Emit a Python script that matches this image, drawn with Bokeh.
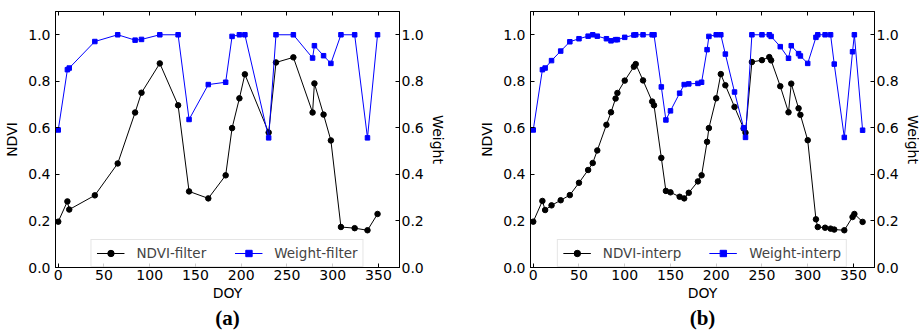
from bokeh.plotting import figure
from bokeh.models import (Range1d, LinearAxis, FixedTicker, PrintfTickFormatter,
                          Legend, LegendItem, Title)
from bokeh.layouts import row
from bokeh.embed import file_html
from bokeh.resources import INLINE

# ---- data (a) filtered ----
doy_filter = [0, 10, 12, 40, 65, 84, 91, 111, 131, 143, 164, 183, 190, 198, 204,
              230, 238, 257, 278, 280, 290, 298, 309, 324, 338, 349]
ndvi_filter = [0.197, 0.284, 0.249, 0.310, 0.447, 0.666, 0.751, 0.877, 0.697, 0.327,
               0.297, 0.396, 0.599, 0.727, 0.830, 0.580, 0.881, 0.903, 0.666, 0.791,
               0.657, 0.546, 0.174, 0.169, 0.160, 0.230]
weight_filter = [0.591, 0.850, 0.857, 0.971, 1.0, 0.977, 0.980, 1.0, 1.0, 0.636,
                 0.786, 0.796, 0.993, 1.0, 1.0, 0.557, 1.0, 1.0, 0.900, 0.953,
                 0.910, 0.877, 1.0, 1.0, 0.557, 1.0]

# ---- data (b) interpolated ----
doy_interp = [0, 10, 13, 20, 30, 40, 50, 60, 65, 70, 80, 85, 90, 92, 100, 110, 112,
              120, 130, 132, 140, 145, 150, 160, 165, 170, 180, 184, 190, 192, 200,
              205, 210, 220, 230, 232, 239, 250, 258, 260, 270, 279, 282, 290, 292,
              300, 309, 311, 319, 325, 329, 340, 349, 351, 360]
ndvi_interp = [0.197, 0.286, 0.247, 0.267, 0.289, 0.311, 0.364, 0.419, 0.449, 0.503,
               0.613, 0.667, 0.726, 0.750, 0.803, 0.863, 0.874, 0.804, 0.713, 0.697,
               0.471, 0.329, 0.323, 0.304, 0.297, 0.321, 0.370, 0.396, 0.540, 0.599,
               0.727, 0.831, 0.783, 0.690, 0.597, 0.579, 0.883, 0.891, 0.904, 0.890,
               0.779, 0.667, 0.790, 0.684, 0.656, 0.547, 0.207, 0.174, 0.171, 0.167,
               0.163, 0.160, 0.217, 0.230, 0.196]
weight_interp = [0.591, 0.850, 0.857, 0.889, 0.930, 0.970, 0.983, 0.994, 1.0, 0.994,
                 0.983, 0.974, 0.979, 0.979, 0.989, 0.999, 1.0, 1.0, 1.0, 1.0,
                 0.776, 0.634, 0.673, 0.749, 0.786, 0.789, 0.791, 0.796, 0.936, 0.993,
                 1.0, 1.0, 0.917, 0.754, 0.600, 0.559, 1.0, 1.0, 1.0, 0.993,
                 0.949, 0.899, 0.953, 0.919, 0.909, 0.877, 0.989, 1.0, 1.0, 1.0,
                 0.874, 0.559, 0.927, 1.0, 0.590]

x_ticks = [0, 50, 100, 150, 200, 250, 300, 350]
y_ticks = [0.0, 0.2, 0.4, 0.6, 0.8, 1.0]

FONT = "DejaVu Sans"


def style_axis(ax, label=None):
    ax.axis_line_color = "black"
    ax.major_tick_line_color = "black"
    ax.major_tick_in = 4
    ax.major_tick_out = 0
    ax.minor_tick_line_color = None
    ax.major_label_text_font = FONT
    ax.major_label_text_font_size = "14px"
    ax.major_label_text_color = "black"
    if label is not None:
        ax.axis_label = label
        ax.axis_label_text_font = FONT
        ax.axis_label_text_font_size = "14px"
        ax.axis_label_text_font_style = "normal"
        ax.axis_label_text_color = "black"


def make_panel(doy, ndvi, weight, lab_n, lab_w, caption, right_border):
    p = figure(frame_width=344, frame_height=256,
               min_border_left=55, min_border_right=right_border,
               min_border_top=11, min_border_bottom=66,
               x_range=Range1d(-3, 373), y_range=Range1d(0, 1.1),
               output_backend="svg", toolbar_location=None)
    p.extra_y_ranges = {"w": Range1d(0, 1.1)}
    p.grid.visible = False
    p.outline_line_color = "black"
    p.background_fill_color = "white"
    p.border_fill_color = "white"

    xa = p.xaxis[0]
    xa.ticker = FixedTicker(ticks=x_ticks)
    style_axis(xa, "DOY")
    xa.major_label_standoff = 2
    xa.axis_label_standoff = 2

    ya = p.yaxis[0]
    ya.ticker = FixedTicker(ticks=y_ticks)
    ya.formatter = PrintfTickFormatter(format="%.1f")
    style_axis(ya, "NDVI")
    ya.major_label_standoff = 5
    ya.axis_label_standoff = 5

    ra = LinearAxis(y_range_name="w", ticker=FixedTicker(ticks=y_ticks),
                    formatter=PrintfTickFormatter(format="%.1f"))
    style_axis(ra, "Weight")
    ra.major_label_standoff = 2
    ra.axis_label_standoff = 3
    p.add_layout(ra, "right")

    ta = LinearAxis(ticker=FixedTicker(ticks=x_ticks))
    style_axis(ta)
    ta.major_label_text_font_size = "0px"
    ta.major_label_text_color = None
    ta.major_label_standoff = 0
    p.add_layout(ta, "above")

    l1 = p.line(doy, ndvi, line_color="black", line_width=1)
    s1 = p.scatter(doy, ndvi, marker="circle", size=5.5, fill_color="black",
                   line_color="black")
    l2 = p.line(doy, weight, line_color="#0000ff", line_width=1, y_range_name="w")
    s2 = p.scatter(doy, weight, marker="square", size=4.5, fill_color="#0000ff",
                   line_color="#0000ff", y_range_name="w")

    leg = Legend(items=[LegendItem(label=lab_n, renderers=[l1, s1]),
                        LegendItem(label=lab_w, renderers=[l2, s2])],
                 orientation="horizontal", location="bottom_center",
                 margin=0, padding=5, spacing=28, label_standoff=12,
                 glyph_width=28, glyph_height=16, label_height=16,
                 label_text_font=FONT, label_text_font_size="13.5px",
                 border_line_color="#cccccc", border_line_width=1,
                 background_fill_color="white", background_fill_alpha=0.8)
    p.add_layout(leg, "center")

    t = Title(text=caption, align="center", text_font="Liberation Serif",
              text_font_size="21px", text_font_style="bold", text_color="black",
              standoff=0)
    p.add_layout(t, "below")
    return p


pa = make_panel(doy_filter, ndvi_filter, weight_filter, "NDVI-filter",
                "Weight-filter", "(a)", 76)
pb = make_panel(doy_interp, ndvi_interp, weight_interp, "NDVI-interp",
                "Weight-interp", "(b)", 45)

layout = row(pa, pb)
open("out.html", "w").write(file_html(layout, INLINE))
